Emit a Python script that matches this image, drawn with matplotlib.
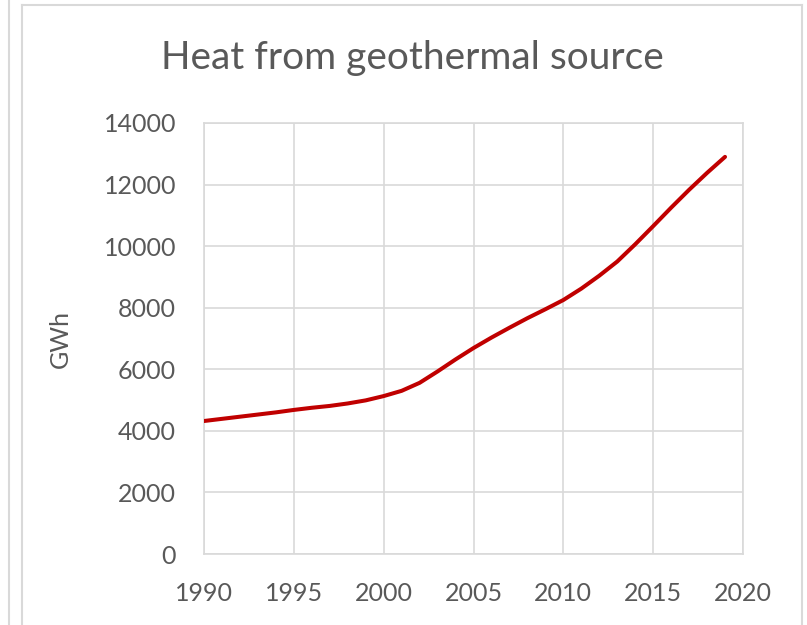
import matplotlib
matplotlib.use('Agg')
import matplotlib.pyplot as plt
from matplotlib.lines import Line2D

# geothermal heat production, GWh per year
years = [1990, 1991, 1992, 1993, 1994, 1995, 1996, 1997, 1998, 1999,
         2000, 2001, 2002, 2003, 2004, 2005, 2006, 2007, 2008, 2009,
         2010, 2011, 2012, 2013, 2014, 2015, 2016, 2017, 2018, 2019]
heat_gwh = [4320, 4390, 4460, 4530, 4600, 4680, 4750, 4810, 4890, 4990,
            5130, 5300, 5560, 5930, 6320, 6690, 7030, 7350, 7660, 7950,
            8250, 8620, 9040, 9500, 10060, 10650, 11250, 11830, 12380, 12900]

x_ticks = [1990, 1995, 2000, 2005, 2010, 2015, 2020]
y_ticks = [0, 2000, 4000, 6000, 8000, 10000, 12000, 14000]

TEXT = '#595959'
GRID = '#d9d9d9'
FONT = 'Lato'

W, H = 807, 625
fig = plt.figure(figsize=(W / 100, H / 100), dpi=100)
ax = fig.add_axes([204 / W, 1 - 554 / H, (743 - 204) / W, (554 - 123) / H])

ax.plot(years, heat_gwh, color='#c00000', linewidth=2.9,
        solid_capstyle='round', solid_joinstyle='round', zorder=3)

ax.set_xlim(1990, 2020)
ax.set_ylim(0, 14000)
ax.set_xticks(x_ticks)
ax.set_yticks(y_ticks)
ax.grid(True, color=GRID, linewidth=1.2)
ax.set_axisbelow(True)
for sp in ax.spines.values():
    sp.set_color(GRID)
    sp.set_linewidth(1.2)
ax.tick_params(length=0, pad=20, labelsize=18, labelcolor=TEXT)
for lab in ax.get_xticklabels() + ax.get_yticklabels():
    lab.set_fontfamily(FONT)

fig.text(412 / W, 1 - 69 / H, 'Heat from geothermal source', ha='center',
         va='baseline', fontsize=28, color=TEXT, family=FONT)
fig.text(60 / W, 1 - 339 / H, 'GWh', ha='center', va='center', rotation=90,
         fontsize=18, color=TEXT, family=FONT)

# chart frame and neighbouring panel edge
frame = [([22, 802], [5, 5]), ([22, 22], [5, 625]), ([802, 802], [5, 625]),
         ([8.5, 8.5], [0, 625])]
for xs, ys in frame:
    fig.add_artist(Line2D([x / W for x in xs], [1 - y / H for y in ys],
                          transform=fig.transFigure, color=GRID, linewidth=1.5))

fig.savefig('out.png', dpi=100)
